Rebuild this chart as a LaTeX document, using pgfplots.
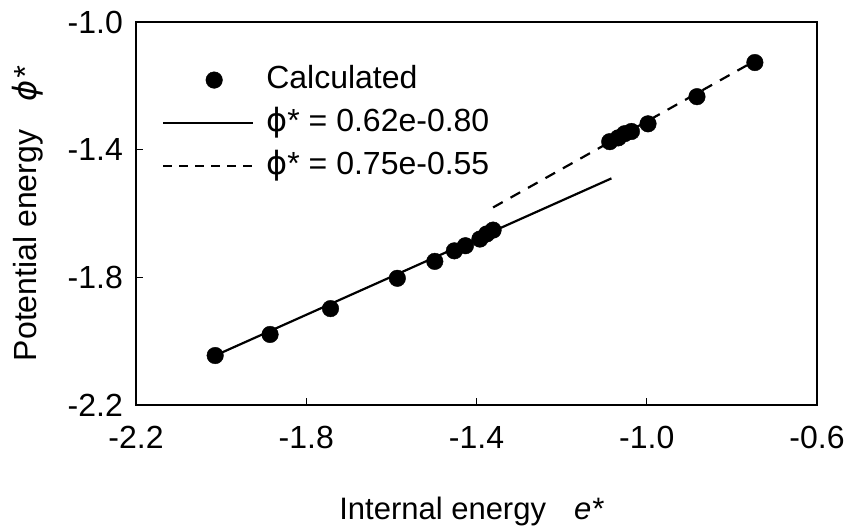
\documentclass[border=0pt]{standalone}
\usepackage{pgfplots}
\pgfplotsset{compat=1.18}
\usepackage{fontspec}
\setmainfont{Liberation Sans}
\newfontfamily\dejavu{DejaVu Sans}
\newcommand{\bigf}{\fontsize{32}{38}\selectfont}
\pgfplotsset{
  legMark/.style={legend image code/.code={\draw[##1] plot coordinates {(51pt,0pt)}; \path (100pt,0pt);}},
  legLine/.style={legend image code/.code={\draw[##1] (0pt,0pt) -- (90pt,0pt); \path (100pt,0pt);}},
  legDash/.style={legend image code/.code={\draw[##1, dash pattern=on 9pt off 7pt] (0pt,0pt) -- (90pt,0pt); \path (100pt,0pt);}},
}
\begin{document}
\begin{tikzpicture}
\useasboundingbox (0,0) rectangle (846pt,528pt);
\begin{axis}[
  at={(136pt,123pt)}, anchor=south west,
  scale only axis, width=681pt, height=383pt,
  xmin=-2.2, xmax=-0.6, ymin=-2.2, ymax=-1.0,
  xtick={-2.2,-1.8,-1.4,-1.0,-0.6},
  xticklabels={-2.2,-1.8,-1.4,-1.0,-0.6},
  ytick={-2.2,-1.8,-1.4,-1.0},
  yticklabels={-2.2,-1.8,-1.4,-1.0},
  tick align=inside, xtick pos=bottom, ytick pos=left,
  major tick length=7pt,
  every tick/.style={black, line width=1.2pt},
  axis line style={line width=1.6pt},
  tick label style={font=\bigf},
  xticklabel style={anchor=base, yshift=-43pt, inner sep=0pt},
  yticklabel style={anchor=east, xshift=-13pt, inner sep=0pt},
  xlabel={Internal energy\hspace{0.9em}\textit{e*}},
  ylabel={Potential energy\hspace{0.9em}{\dejavu\itshape ϕ}\textit{*}},
  label style={font=\fontsize{31}{37}\selectfont},
  xlabel style={at={(axis description cs:0.493,-0.300)}, anchor=base},
  ylabel style={at={(axis description cs:-0.1454,0.499)}, anchor=base,
    font=\bigf},
  legend cell align=left,
  legend style={draw=none, fill=none, font=\bigf,
    at={(axis description cs:0.038,0.892)}, anchor=north west,
    inner sep=0pt, row sep=10pt,
    nodes={inner sep=2pt, text height=23pt, text depth=6pt}},
]
\addplot[only marks, mark=*, mark size=8.3pt, black, legMark]
 coordinates {
(-2.014,-2.045) (-1.885,-1.979) (-1.743,-1.898) (-1.586,-1.803)
(-1.498,-1.750) (-1.452,-1.717) (-1.426,-1.701) (-1.392,-1.680)
(-1.376,-1.664) (-1.361,-1.652) (-1.087,-1.375) (-1.067,-1.363)
(-1.052,-1.350) (-1.036,-1.343) (-0.997,-1.319) (-0.882,-1.234)
(-0.746,-1.127)};
\addlegendentry{Calculated}
\addplot[black, line width=2.2pt, no marks, legLine]
 coordinates {(-2.014,-2.045) (-1.083,-1.490)};
\addlegendentry{{\dejavu ϕ}* = 0.62e-0.80}
\addplot[black, line width=2.2pt, no marks, dash pattern=on 11pt off 9pt, legDash]
 coordinates {(-1.361,-1.581) (-0.757,-1.130)};
\addlegendentry{{\dejavu ϕ}* = 0.75e-0.55}
\end{axis}
\end{tikzpicture}
\end{document}
